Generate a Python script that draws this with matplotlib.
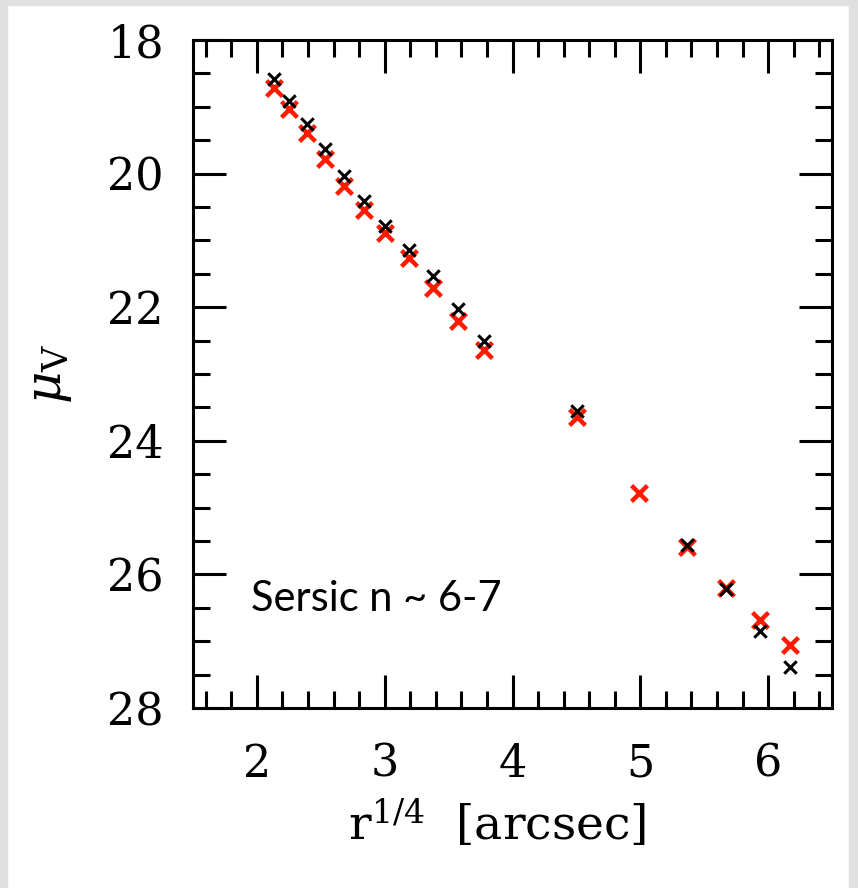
import matplotlib.pyplot as plt
from matplotlib.patches import Rectangle
from matplotlib.ticker import MultipleLocator

# black crosses
x_black = [2.13, 2.25, 2.39, 2.53, 2.68, 2.84, 3.00, 3.19, 3.38, 3.575, 3.78,
           4.505, 5.365, 5.67, 5.94, 6.17]
mu_black = [18.59, 18.92, 19.26, 19.63, 20.03, 20.41, 20.78, 21.14, 21.54, 22.03, 22.51,
            23.56, 25.56, 26.22, 26.84, 27.39]

# red crosses
x_red = [2.13, 2.25, 2.39, 2.53, 2.68, 2.84, 3.00, 3.19, 3.38, 3.575, 3.78,
         4.505, 4.99, 5.365, 5.67, 5.94, 6.17]
mu_red = [18.72, 19.03, 19.39, 19.78, 20.18, 20.54, 20.89, 21.26, 21.71, 22.20, 22.64,
          23.65, 24.78, 25.59, 26.21, 26.69, 27.05]

plt.rcParams['mathtext.fontset'] = 'dejavuserif'

fig = plt.figure(figsize=(8.58, 8.88), dpi=100)
# grey frame around the slide image
fig.patches.append(Rectangle((0, 0), 7 / 858, 1, transform=fig.transFigure, color='#e0e0e0', zorder=0))
fig.patches.append(Rectangle((0, 1 - 5 / 888), 1, 5 / 888, transform=fig.transFigure, color='#e0e0e0', zorder=0))
fig.patches.append(Rectangle((1 - 9 / 858, 0), 9 / 858, 1, transform=fig.transFigure, color='#e0e0e0', zorder=0))

ax = fig.add_axes([193 / 858, 1 - 708 / 888, 639 / 858, 668 / 888])

ax.scatter(x_red, mu_red, marker='x', s=130, c='#ff1a00', linewidths=3.2, zorder=2)
ax.scatter(x_black, mu_black, marker='x', s=80, c='black', linewidths=2.2, zorder=3)

ax.set_xlim(1.5, 6.5)
ax.set_ylim(28, 18)

ax.xaxis.set_major_locator(MultipleLocator(1))
ax.xaxis.set_minor_locator(MultipleLocator(0.2))
ax.yaxis.set_major_locator(MultipleLocator(2))
ax.yaxis.set_minor_locator(MultipleLocator(0.5))

ax.tick_params(which='both', direction='in', top=True, right=True, width=2.2)
ax.tick_params(which='major', length=24)
ax.tick_params(which='minor', length=12)
ax.tick_params(axis='x', which='major', pad=25)
ax.tick_params(axis='y', which='major', pad=21)
for lab in ax.get_xticklabels() + ax.get_yticklabels():
    lab.set_fontfamily('DejaVu Serif')
    lab.set_fontsize(32)
for s in ax.spines.values():
    s.set_linewidth(2.2)

ax.set_xlabel(r'r$^{1/4}$  [arcsec]', fontfamily='DejaVu Serif', fontsize=34)
ax.xaxis.set_label_coords(0.476, -0.135)
ax.set_ylabel(r'$\mu_{\rm V}$', fontsize=36, labelpad=24)

ax.text(1.955, 26.55, 'Sersic n ~ 6-7', fontfamily='Lato', fontsize=30)

fig.savefig('out.png', dpi=100)
